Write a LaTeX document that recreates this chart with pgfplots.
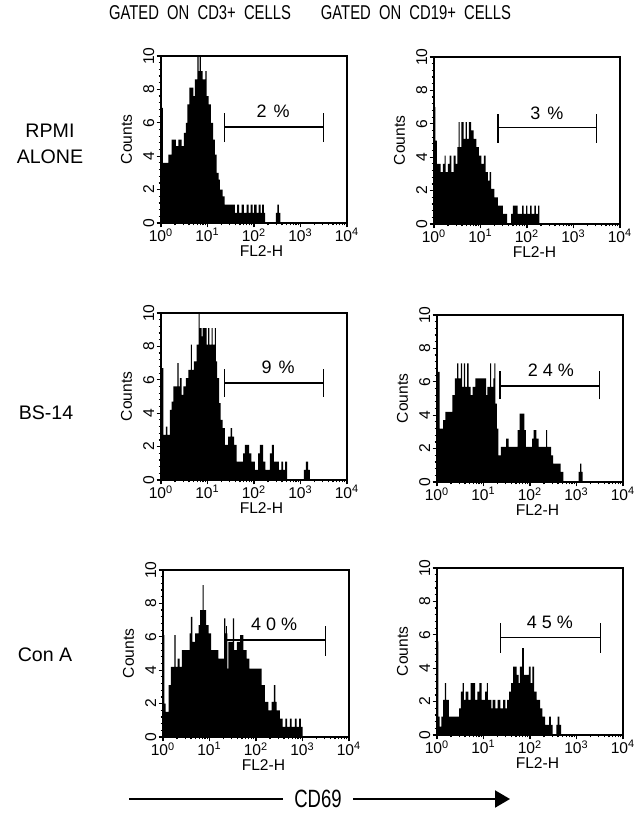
\documentclass[border=0pt]{standalone}
\usepackage{fontspec}
\setmainfont{Liberation Sans}
\newfontfamily\condfont{Liberation Sans}[FakeStretch=0.74]
\usepackage{pgfplots}
\pgfplotsset{compat=1.18}
\usetikzlibrary{arrows.meta}

% FACS histograms, x in decades (0..4 = 10^0..10^4), y = counts
\pgfplotstableread{
d c
0.00 6.9
0.04 3.6
0.157 4.1
0.229 5.0
0.322 4.6
0.372 5.0
0.444 4.6
0.494 5.4
0.537 6.0
0.565 7.1
0.608 8.1
0.694 7.6
0.730 8.6
0.780 10
0.808 9.1
0.830 10
0.859 9.1
0.894 8.6
0.952 9.1
0.980 7.6
1.023 7.1
1.073 6.0
1.123 5.0
1.159 4.1
1.195 3.0
1.238 2.6
1.267 2.0
1.324 1.6
1.367 1.1
1.589 0.6
1.639 1.1
1.682 0.6
1.732 1.1
1.782 0.6
1.839 1.1
1.882 0.6
1.925 1.1
1.968 0.6
2.004 1.1
2.054 0.6
2.097 1.1
2.140 0.6
2.175 1.1
2.211 0.6
2.240 0
2.469 0.6
2.504 1.1
2.533 0.6
2.569 0
4.0 0
}\cdthreeA

\pgfplotstableread{
d c
0.00 7.0
0.03 5.0
0.06 3.6
0.107 3.6
0.143 3.1
0.193 3.6
0.229 4.1
0.25 3.1
0.30 3.6
0.336 4.1
0.372 3.1
0.42 4.1
0.465 3.6
0.50 4.6
0.53 6.1
0.55 4.6
0.587 6.1
0.637 5.1
0.68 6.1
0.708 5.1
0.75 6.1
0.80 5.6
0.85 5.1
0.909 4.6
0.966 4.1
1.016 3.6
1.073 4.1
1.109 3.1
1.16 2.6
1.195 3.1
1.23 2.1
1.30 1.6
1.374 1.1
1.48 0.6
1.574 0
1.66 0.6
1.696 1.1
1.80 0.6
1.896 1.1
1.925 0.6
1.98 1.1
2.01 0.6
2.068 1.1
2.097 0.6
2.16 1.1
2.19 0.6
2.24 1.1
2.268 0
4.0 0
}\cdnineteenA

\pgfplotstableread{
d c
0.00 6.7
0.05 2.7
0.107 3.2
0.136 2.7
0.193 4.2
0.229 4.7
0.265 5.6
0.35 7.0
0.38 5.6
0.408 6.1
0.444 5.1
0.48 5.6
0.537 6.1
0.587 6.6
0.644 8.1
0.665 6.6
0.708 7.1
0.766 8.1
0.808 10
0.83 9.1
0.873 8.6
0.894 9.1
0.98 8.1
1.016 9.1
1.04 8.1
1.088 9.1
1.11 8.1
1.159 9.1
1.18 7.1
1.209 6.1
1.252 4.6
1.28 3.6
1.324 3.1
1.374 2.1
1.445 2.6
1.495 3.1
1.53 2.6
1.574 2.1
1.624 1.1
1.767 1.6
1.803 2.1
1.896 1.6
1.946 1.1
2.018 0.6
2.089 1.6
2.125 2.1
2.197 1.1
2.247 0.6
2.34 1.6
2.383 2.1
2.426 1.1
2.504 1.1
2.533 0.6
2.59 1.1
2.626 0.6
2.669 1.1
2.712 0
3.07 0.6
3.113 1.1
3.163 0.6
3.199 0
4.0 0
}\cdthreeB

\pgfplotstableread{
d c
0.00 6.6
0.058 3.2
0.13 3.7
0.18 4.2
0.332 5.2
0.383 6.2
0.433 7.1
0.462 6.2
0.513 7.1
0.542 5.7
0.578 7.1
0.606 5.7
0.65 7.1
0.679 5.7
0.722 5.2
0.765 5.7
0.823 6.2
1.054 5.2
1.083 5.7
1.14 7.1
1.162 5.7
1.213 6.2
1.235 7.1
1.255 4.7
1.285 3.2
1.321 1.6
1.372 2.1
1.487 2.6
1.538 2.1
1.733 3.1
1.776 4.1
1.877 3.1
1.913 2.1
2.043 2.6
2.08 3.1
2.137 2.6
2.188 2.1
2.347 3.1
2.368 2.1
2.455 1.6
2.498 1.1
2.657 0.6
2.715 0
3.047 0.6
3.076 1.1
3.105 0.6
3.134 0
4.0 0
}\cdnineteenB

\pgfplotstableread{
d c
0.00 6.1
0.029 2.0
0.057 1.5
0.12 3.1
0.171 4.2
0.243 6.1
0.271 4.2
0.314 4.7
0.357 4.2
0.407 5.2
0.50 5.2
0.571 6.2
0.60 7.2
0.629 5.7
0.693 6.2
0.764 6.7
0.80 7.6
0.85 9.1
0.871 7.6
0.929 6.7
0.979 6.2
1.036 5.2
1.193 4.7
1.314 7.1
1.343 6.2
1.386 4.1
1.407 5.7
1.50 7.1
1.529 5.2
1.586 5.7
1.657 6.1
1.729 5.2
1.80 4.7
1.857 4.1
2.121 3.1
2.193 2.1
2.264 1.6
2.336 2.1
2.386 3.1
2.414 2.1
2.443 1.6
2.514 1.1
2.571 0.6
2.629 1.1
2.671 0.6
2.729 1.1
2.764 0.6
2.836 1.1
2.871 0.6
2.929 1.1
2.964 0.6
3.0 0
4.0 0
}\cdthreeC

\pgfplotstableread{
d c
0.00 5.6
0.029 1.1
0.058 0.5
0.094 1.1
0.13 2.1
0.167 3.1
0.196 2.1
0.254 1.1
0.478 1.6
0.514 2.6
0.551 3.1
0.58 2.1
0.616 2.6
0.674 2.1
0.725 3.1
0.819 2.1
0.87 2.6
0.913 3.1
0.957 2.1
1.036 2.6
1.072 3.1
1.094 2.1
1.167 1.6
1.196 2.1
1.254 1.6
1.304 2.1
1.362 1.6
1.42 2.1
1.471 1.6
1.507 2.1
1.551 2.6
1.594 3.1
1.638 4.1
1.71 3.6
1.754 3.1
1.783 4.1
1.833 5.2
1.87 3.6
1.978 4.1
2.014 3.1
2.051 4.1
2.087 2.6
2.145 2.1
2.217 1.6
2.268 1.1
2.326 0.6
2.413 1.1
2.449 0.6
2.486 0
2.565 0.6
2.594 1.1
2.63 0.6
2.667 0
4.0 0
}\cdnineteenC

\pgfplotsset{facs/.style={
  scale only axis, width=93pt, height=83.5pt,
  xmin=0, xmax=4, ymin=0, ymax=10,
  axis line style={line width=0.9pt},
  xtick={0,1,2,3,4},
  xticklabels={10\textsuperscript{0},10\textsuperscript{1},10\textsuperscript{2},10\textsuperscript{3},10\textsuperscript{4}},
  minor xtick={0.301,0.477,0.602,0.699,0.778,0.845,0.903,0.954,
    1.301,1.477,1.602,1.699,1.778,1.845,1.903,1.954,
    2.301,2.477,2.602,2.699,2.778,2.845,2.903,2.954,
    3.301,3.477,3.602,3.699,3.778,3.845,3.903,3.954},
  ytick={0,2,...,10}, yticklabels={0,2,4,6,8,10},
  minor y tick num=4,
  tick pos=left, tick align=outside,
  major tick length=2.2pt, minor tick length=1.2pt,
  tick style={black, line width=0.6pt},
  tick label style={font=\fontsize{7.8}{8}\selectfont},
  yticklabel style={rotate=90, anchor=south, inner sep=1pt},
  xticklabel style={inner sep=0.3pt},
  xlabel={FL2-H}, ylabel={Counts},
  label style={font=\fontsize{7.8}{8}\selectfont},
  xlabel style={at={(axis description cs:0.54,0)}, anchor=north, yshift=-11.2pt, inner sep=0pt},
  ylabel style={yshift=1pt},
  anchor=north west,
}}

\newcommand{\gate}[5]{% x1 x2 y ylow yhigh
  \draw[line width=0.7pt] (axis cs:#1,#3) -- (axis cs:#2,#3);
  \draw[line width=0.7pt] (axis cs:#1,#4) -- (axis cs:#1,#5);
  \draw[line width=0.7pt] (axis cs:#2,#4) -- (axis cs:#2,#5);
}
\newcommand{\pct}[3]{\node[anchor=base, inner sep=0pt, font=\fontsize{9}{10}\selectfont] at (axis cs:#1,#2) {#3};}

\begin{document}
\begin{tikzpicture}
\path[use as bounding box] (0,0) rectangle (318pt,-406.5pt);

\node[font=\condfont\fontsize{10}{11}\selectfont] at (100pt,-6.5pt) {GATED\ \ ON\ \ CD3+\ \ CELLS};
\node[font=\condfont\fontsize{10}{11}\selectfont] at (208pt,-6.5pt) {GATED\ \ ON\ \ CD19+\ \ CELLS};

\node[font=\fontsize{9.8}{13}\selectfont, align=center] at (25pt,-72pt) {RPMI\\ALONE};
\node[font=\fontsize{9.8}{13}\selectfont] at (23pt,-206.5pt) {BS-14};
\node[font=\fontsize{9.8}{13}\selectfont] at (22.5pt,-327.5pt) {Con A};

% row 1
\begin{axis}[facs, at={(80.5pt,-28pt)}]
\addplot[const plot, fill=black, draw=none] table[x=d, y=c] {\cdthreeA} \closedcycle;
\gate{1.36}{3.50}{5.75}{4.85}{6.6}
\pct{2.41}{6.3}{2\hspace{3.5pt}\%}
\end{axis}

\begin{axis}[facs, at={(217pt,-28.5pt)}]
\addplot[const plot, fill=black, draw=none] table[x=d, y=c] {\cdnineteenA} \closedcycle;
\gate{1.38}{3.50}{5.78}{4.86}{6.56}
\pct{2.43}{6.28}{3\hspace{3.5pt}\%}
\end{axis}

% row 2
\begin{axis}[facs, at={(80.5pt,-156.5pt)}]
\addplot[const plot, fill=black, draw=none] table[x=d, y=c] {\cdthreeB} \closedcycle;
\gate{1.36}{3.50}{5.82}{4.98}{6.65}
\pct{2.52}{6.4}{9\hspace{3.5pt}\%}
\end{axis}

\begin{axis}[facs, at={(218.5pt,-157.5pt)}]
\addplot[const plot, fill=black, draw=none] table[x=d, y=c] {\cdnineteenB} \closedcycle;
\gate{1.357}{3.50}{5.75}{4.95}{6.67}
\pct{2.45}{6.3}{2\hspace{2.5pt}4\hspace{2.5pt}\%}
\end{axis}

% row 3
\begin{axis}[facs, at={(81.5pt,-285pt)}]
\addplot[const plot, fill=black, draw=none] table[x=d, y=c] {\cdthreeC} \closedcycle;
\gate{1.37}{3.49}{5.82}{4.88}{6.67}
\pct{2.39}{6.35}{4\hspace{2.5pt}0\hspace{2.5pt}\%}
\end{axis}

\begin{axis}[facs, at={(218.5pt,-284pt)}]
\addplot[const plot, fill=black, draw=none] table[x=d, y=c] {\cdnineteenC} \closedcycle;
\gate{1.362}{3.514}{5.84}{4.94}{6.69}
\pct{2.43}{6.39}{4\hspace{2.5pt}5\hspace{2.5pt}\%}
\end{axis}

% CD69 arrow
\draw[line width=1pt] (64.5pt,-399.5pt) -- (141.5pt,-399.5pt);
\node[font=\condfont\fontsize{12.5}{13}\selectfont] at (159pt,-399.5pt) {CD69};
\draw[line width=1pt, -{Triangle[length=7.5pt,width=8.5pt]}] (176.5pt,-399.5pt) -- (255pt,-399.5pt);
\end{tikzpicture}
\end{document}
